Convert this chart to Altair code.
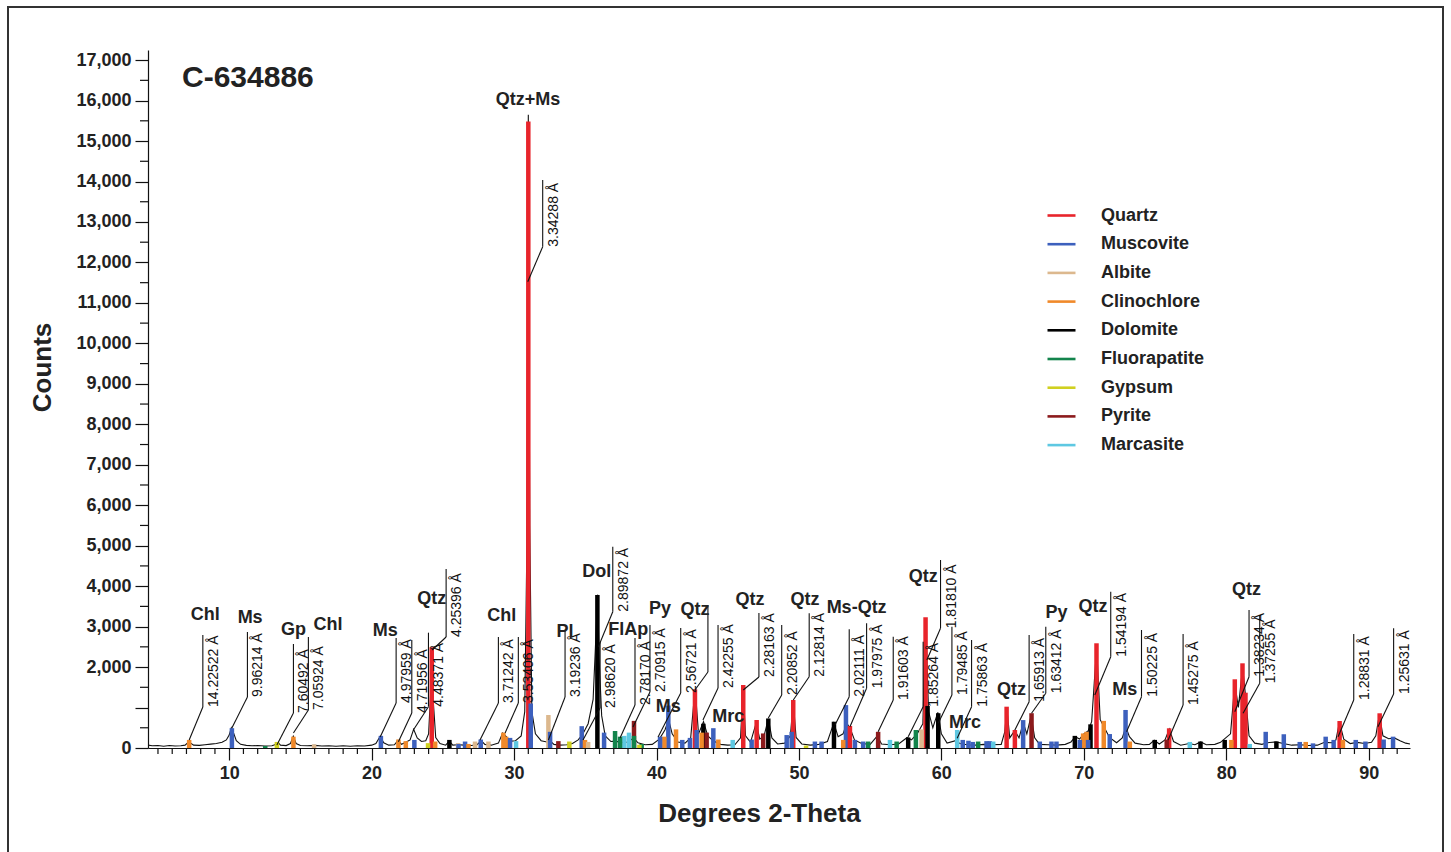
import altair as alt
import pandas as pd

FONT = "Liberation Sans"
X_DOMAIN = [4.3, 92.9]
Y_DOMAIN = [0, 17250]
W, H = 1262, 698

# ---------------- observed pattern (2-theta, counts) ----------------
pattern_theta = [4.3, 4.6, 5.0, 5.4, 5.8, 6.2, 6.6, 6.9, 7.1, 7.2, 7.3, 7.5, 7.9, 8.3, 8.7, 9.1, 9.5, 9.8, 10.0, 10.15, 10.3, 10.5, 10.8, 11.2, 11.6, 12.0, 12.5, 13.0, 13.3, 13.45, 13.6, 14.0, 14.3, 14.5, 14.7, 15.0, 15.5, 16.0, 16.5, 17.0, 17.5, 18.0, 18.5, 19.0, 19.5, 20.0, 20.3, 20.6, 20.85, 21.2, 21.6, 21.85, 22.1, 22.4, 22.7, 22.95, 23.2, 23.5, 23.8, 24.0, 24.15, 24.22, 24.32, 24.5, 24.8, 25.2, 25.45, 25.7, 26.1, 26.5, 27.0, 27.4, 27.7, 27.95, 28.4, 28.9, 29.2, 29.5, 29.8, 30.1, 30.5, 30.75, 30.9, 31.0, 31.1, 31.25, 31.5, 31.9, 32.3, 32.5, 32.8, 33.2, 33.7, 34.1, 34.5, 34.8, 35.2, 35.55, 35.75, 35.87, 35.97, 36.15, 36.4, 36.8, 37.1, 37.5, 38.0, 38.4, 38.7, 39.2, 39.7, 40.2, 40.6, 40.85, 41.1, 41.5, 42.0, 42.4, 42.65, 42.75, 42.95, 43.3, 43.6, 44.0, 44.5, 45.0, 45.5, 45.9, 46.08, 46.25, 46.6, 47.0, 47.25, 47.55, 47.85, 48.1, 48.5, 49.0, 49.4, 49.6, 49.8, 50.2, 50.8, 51.4, 52.0, 52.45, 52.75, 53.1, 53.35, 53.6, 53.9, 54.4, 55.0, 55.5, 55.8, 56.4, 57.0, 57.6, 57.9, 58.3, 58.7, 58.9, 59.1, 59.4, 59.75, 60.0, 60.4, 61.0, 61.3, 61.8, 62.4, 63.0, 63.6, 64.2, 64.45, 64.6, 64.8, 65.15, 65.45, 65.75, 66.0, 66.3, 66.55, 66.9, 67.5, 68.1, 68.7, 69.1, 69.4, 69.7, 70.0, 70.3, 70.55, 70.9, 71.15, 71.45, 71.8, 72.3, 72.7, 72.95, 73.2, 73.6, 74.2, 74.6, 74.95, 75.3, 75.7, 76.0, 76.3, 76.8, 77.4, 77.8, 78.2, 78.6, 79.2, 79.6, 79.9, 80.3, 80.6, 80.85, 81.15, 81.35, 81.6, 82.0, 82.5, 82.9, 83.5, 84.0, 84.6, 85.2, 85.8, 86.4, 86.9, 87.4, 87.7, 87.95, 88.25, 88.7, 89.2, 89.7, 90.2, 90.5, 90.75, 91.0, 91.4, 91.8, 92.2, 92.6, 92.9]
pattern_counts = [70, 55, 60, 45, 60, 50, 55, 70, 130, 190, 120, 70, 65, 80, 95, 110, 140, 200, 320, 500, 380, 180, 90, 65, 55, 60, 50, 55, 90, 130, 70, 60, 110, 290, 110, 60, 55, 65, 50, 55, 45, 55, 45, 55, 50, 70, 110, 290, 130, 70, 80, 190, 90, 140, 200, 460, 250, 160, 180, 350, 1400, 2470, 1200, 260, 110, 70, 170, 70, 80, 70, 60, 80, 180, 90, 70, 120, 370, 260, 170, 180, 300, 900, 5000, 15650, 5500, 900, 350, 180, 150, 190, 90, 70, 80, 110, 200, 330, 600, 1200, 2800, 3790, 2200, 800, 300, 160, 170, 140, 150, 250, 130, 80, 90, 220, 450, 700, 350, 150, 120, 250, 1250, 1300, 350, 650, 300, 170, 90, 70, 80, 250, 1480, 300, 140, 620, 220, 300, 720, 250, 100, 120, 300, 1150, 260, 100, 70, 90, 160, 620, 280, 350, 620, 480, 200, 110, 90, 300, 100, 80, 100, 260, 200, 350, 600, 3100, 900, 500, 880, 350, 120, 180, 110, 80, 70, 90, 80, 90, 400, 980, 250, 430, 250, 620, 350, 800, 250, 90, 80, 70, 90, 150, 280, 220, 350, 420, 650, 2500, 700, 500, 260, 130, 250, 520, 280, 120, 80, 90, 190, 100, 200, 470, 160, 70, 110, 80, 150, 80, 90, 140, 230, 350, 1600, 1000, 2000, 1300, 300, 120, 90, 130, 150, 110, 70, 80, 60, 70, 140, 130, 200, 640, 220, 110, 140, 110, 140, 300, 830, 300, 230, 250, 180, 120, 100]

# ---------------- reference sticks per phase ----------------
minerals = ["Quartz", "Muscovite", "Albite", "Clinochlore", "Dolomite",
            "Fluorapatite", "Gypsum", "Pyrite", "Marcasite"]
mineral_colors = ["#e8242b", "#3d60bd", "#dcb88e", "#f0892a", "#000000",
                  "#13844c", "#d0d020", "#8c1a1c", "#5ec8e2"]

quartz_theta = [24.22, 31.00, 42.70, 46.09, 47.03, 49.60, 53.58, 58.89, 64.58, 65.16, 70.89, 75.99, 80.60, 81.14, 81.35, 87.96, 90.77]
quartz_counts = [2489, 15480, 1451, 1557, 692, 1186, 544, 3230, 1021, 445, 2588, 487, 1698, 2093, 1367, 667, 858]

muscovite_theta = [10.19, 20.65, 23.00, 26.10, 26.56, 27.66, 29.72, 31.17, 32.53, 34.75, 36.32, 40.25, 40.83, 41.81, 42.35, 42.82, 43.99, 46.68, 49.14, 49.49, 51.12, 51.59, 53.30, 53.93, 54.51, 61.50, 61.90, 62.20, 63.17, 63.40, 65.74, 66.91, 67.73, 68.08, 69.72, 70.30, 71.82, 72.93, 82.77, 84.04, 85.16, 86.09, 86.98, 87.54, 89.09, 89.77, 91.05, 91.71]
muscovite_counts = [490, 300, 200, 100, 160, 210, 250, 1100, 400, 540, 380, 280, 1050, 200, 250, 445, 490, 210, 320, 400, 160, 160, 1060, 200, 160, 200, 180, 150, 170, 170, 690, 160, 160, 160, 200, 200, 345, 940, 400, 340, 150, 115, 280, 200, 200, 160, 210, 280]

albite_theta = [15.96, 26.07, 27.26, 28.20, 32.41, 35.20, 58.61]
albite_counts = [90, 120, 160, 160, 815, 150, 460]

clinochlore_theta = [7.19, 14.51, 21.88, 22.40, 24.46, 26.80, 29.25, 29.44, 34.98, 40.55, 41.37, 43.17, 44.34, 53.11, 69.95, 70.19, 71.40, 73.23, 80.36, 85.58, 88.19]
clinochlore_counts = [200, 280, 210, 170, 160, 100, 380, 280, 200, 280, 460, 380, 210, 200, 360, 400, 670, 160, 200, 150, 200]

dolomite_theta = [25.46, 35.85, 43.29, 47.85, 52.46, 57.67, 59.03, 59.78, 69.37, 70.47, 74.98, 78.19, 79.89, 83.52]
dolomite_counts = [200, 3780, 600, 730, 650, 260, 1040, 860, 300, 585, 200, 160, 200, 160]

fluorapatite_theta = [12.53, 37.09, 37.44, 38.42, 38.96, 54.86, 56.86, 58.21, 62.58]
fluorapatite_counts = [50, 420, 280, 300, 100, 160, 160, 445, 160]

gypsum_theta = [13.35, 23.96, 33.88, 38.80, 50.50]
gypsum_counts = [150, 120, 160, 80, 60]

pyrite_theta = [33.11, 38.42, 43.52, 47.49, 55.56, 66.33, 75.82]
pyrite_counts = [170, 670, 380, 360, 400, 860, 210]

marcasite_theta = [30.14, 37.74, 38.07, 45.35, 56.39, 61.11, 63.64, 77.44, 81.65]
marcasite_counts = [170, 300, 380, 200, 200, 445, 160, 150, 100]

# ---------------- d-spacing annotations (one unlabeled leader for the 42.7° Qtz) ----------------
d_labels = ["14.22522 Å", "9.96214 Å", "7.60492 Å", "7.05924 Å", "4.97959 Å", "4.71956 Å", "4.48371 Å", "4.25396 Å",
            "3.71242 Å", "3.53406 Å", "3.34288 Å", "3.19236 Å", "2.98620 Å", "2.89872 Å", "2.78170 Å", "2.70915 Å",
            "2.56721 Å", "", "2.42255 Å", "2.28163 Å", "2.20852 Å", "2.12814 Å", "2.02111 Å", "1.97975 Å", "1.91603 Å",
            "1.85264 Å", "1.81810 Å", "1.79485 Å", "1.75863 Å", "1.65913 Å", "1.63412 Å", "1.54194 Å", "1.50225 Å",
            "1.45275 Å", "1.38234 Å", "1.37255 Å", "1.28831 Å", "1.25631 Å"]
d_line_x = [8.15, 11.28, 14.51, 15.56, 21.72, 22.82, 23.99, 25.23, 28.90, 30.30, 32.01, 33.58, 36.04, 36.93, 38.49, 39.54,
            41.70, 43.61, 44.32, 47.19, 48.79, 50.72, 53.53, 54.75, 56.62, 58.72, 59.94, 60.74, 62.12, 66.16, 67.33, 71.89, 74.05,
            76.97, 81.60, 82.35, 88.95, 91.75]
d_line_bottom = [1013, 1260, 865, 939, 1112, 865, 1021, 2743, 1112, 1112, 12389, 1260, 989, 3369, 1063, 1384,
                 1359, 1878, 1483, 1755, 1310, 1762, 1268, 1475, 1186, 1021, 2958, 1310, 1021, 1144, 1352, 2256, 1268,
                 1063, 1762, 1599, 1186, 1335]
d_line_top = [2793, 2867, 2570, 2743, 2718, 2669, 2850, 4424, 2743, 2743, 14038, 2916, 2620, 4975, 2718, 3040,
              2966, 3534, 3040, 3336, 3040, 3329, 2934, 3082, 2751, 2627, 4646, 2998, 2669, 2793, 2998, 3863, 2916,
              2817, 3411, 3287, 2817, 2958]
d_tip_x = [7.19, 10.19, 13.35, 14.51, 20.60, 21.88, 22.93, 24.25, 27.61, 29.37, 30.96, 32.41, 34.84, 35.92, 37.44, 38.35,
           40.11, 42.70, 43.26, 46.09, 47.85, 49.60, 52.53, 53.58, 55.56, 57.67, 58.98, 59.78, 61.11, 65.16, 66.33, 70.77, 73.00,
           75.92, 80.60, 81.18, 87.85, 90.65]
d_tip_y = [198, 494, 74, 371, 272, 156, 445, 2422, 198, 371, 11524, 198, 198, 2503, 247, 519,
           272, 1433, 692, 1433, 741, 1186, 568, 526, 403, 279, 2175, 610, 240, 445, 858, 1310, 403,
           198, 897, 858, 279, 526]

# ---------------- phase labels ----------------
phase_labels = ["Chl", "Ms", "Gp", "Chl", "Ms", "Qtz", "Chl", "Qtz+Ms", "Pl", "Dol", "FlAp", "Py", "Qtz", "Ms", "Mrc",
                "Qtz", "Qtz", "Ms-Qtz", "Qtz", "Mrc", "Qtz", "Py", "Qtz", "Ms", "Qtz"]
phase_x = [8.32, 11.47, 14.51, 16.93, 20.95, 24.22, 29.14, 30.98, 33.58, 35.80, 38.02, 40.25, 42.70, 40.83, 45.04,
           46.56, 50.42, 54.05, 58.72, 61.65, 64.93, 68.08, 70.65, 72.88, 81.42]
phase_y = [3287, 3220, 2916, 3040, 2899, 3675, 3262, 16015, 2874, 4342, 2916, 3428, 3411, 1021, 774,
           3658, 3658, 3453, 4234, 625, 1433, 3329, 3492, 1433, 3905]

sample_name = "C-634886"

y_major = list(range(0, 17001, 1000))
y_minor = list(range(500, 17000, 1000))
x_major = list(range(10, 91, 10))
x_minor = [v for v in range(5, 93) if v % 10 != 0]

# ---------------- build tables ----------------
pat_df = pd.DataFrame({"t": pattern_theta, "c": pattern_counts})

stick_sets = [quartz_theta, muscovite_theta, albite_theta, clinochlore_theta, dolomite_theta,
              fluorapatite_theta, gypsum_theta, pyrite_theta, marcasite_theta]
stick_vals = [quartz_counts, muscovite_counts, albite_counts, clinochlore_counts, dolomite_counts,
              fluorapatite_counts, gypsum_counts, pyrite_counts, marcasite_counts]
rows = []
for m, ts, cs in zip(minerals, stick_sets, stick_vals):
    for t, c in zip(ts, cs):
        rows.append({"mineral": m, "t": t, "c": c, "b": 0})
stick_df = pd.DataFrame(rows).sort_values("c", ascending=False).reset_index(drop=True)
stick_df["z"] = range(len(stick_df))

ann_df = pd.DataFrame({"label": d_labels, "lx": d_line_x, "lb": d_line_bottom, "lt": d_line_top,
                       "tx": d_tip_x, "ty": d_tip_y})
ph_df = pd.DataFrame({"label": phase_labels, "x": phase_x, "y": phase_y})

xs = alt.Scale(domain=X_DOMAIN, nice=False, zero=False)
ys = alt.Scale(domain=Y_DOMAIN, nice=False, zero=False)

x_axis = alt.Axis(values=x_major, title="Degrees 2-Theta", grid=False, tickSize=12, tickWidth=1.2,
                  tickColor="#111", domainColor="#111", domainWidth=1.2,
                  labelFont=FONT, labelFontSize=18, labelFontWeight="bold", labelColor="#222",
                  labelPadding=4, titleFont=FONT, titleFontSize=26, titleFontWeight="bold",
                  titleColor="#222", titlePadding=18, titleX=611)
y_axis = alt.Axis(values=y_major, title="Counts", grid=False, tickSize=13, tickWidth=1.2,
                  tickColor="#111", domainColor="#111", domainWidth=1.2,
                  labelFont=FONT, labelFontSize=18, labelFontWeight="bold", labelColor="#222",
                  labelPadding=4,
                  labelExpr="datum.value == 1000 ? '' : format(datum.value, ',')",
                  titleFont=FONT, titleFontSize=26, titleFontWeight="bold", titleColor="#222",
                  titleX=-106, titleY=317, titleAngle=270, titleAlign="center", titleBaseline="middle")


def X(field):
    return alt.X(field, scale=xs, axis=x_axis, title="Degrees 2-Theta")


def Y(field):
    return alt.Y(field, scale=ys, axis=y_axis, title="Counts")


frame = alt.Chart(pd.DataFrame({"a": [0]})).mark_rect(filled=False, stroke="#333", strokeWidth=2).encode(
    x=alt.value(-140), x2=alt.value(1295), y=alt.value(-43), y2=alt.value(815))

pattern = alt.Chart(pat_df).mark_line(color="#111", strokeWidth=1.1).encode(x=X("t:Q"), y=Y("c:Q"))

sticks = alt.Chart(stick_df).mark_rule(strokeWidth=4.5).encode(
    x=X("t:Q"),
    y=Y("c:Q"),
    y2=alt.Y2("b:Q"),
    order=alt.Order("z:Q"),
    color=alt.Color("mineral:N",
                    scale=alt.Scale(domain=minerals, range=mineral_colors),
                    legend=alt.Legend(orient="none", legendX=898, legendY=150, title=None,
                                      symbolType="stroke", symbolSize=784, symbolStrokeWidth=2.6,
                                      labelFont=FONT, labelFontSize=18, labelFontWeight="bold",
                                      labelColor="#222", labelOffset=24, rowPadding=3.7, padding=0)))

yminor = alt.Chart(pd.DataFrame({"v": y_minor})).mark_rule(color="#111", strokeWidth=1.2).encode(
    y=Y("v:Q"), x=alt.value(-8), x2=alt.value(0))
xminor = alt.Chart(pd.DataFrame({"v": x_minor})).mark_rule(color="#111", strokeWidth=1.2).encode(
    x=X("v:Q"), y=alt.value(H), y2=alt.value(H + 6))

vlines = alt.Chart(ann_df).mark_rule(color="#111", strokeWidth=1.1).encode(
    x=X("lx:Q"), y=Y("lb:Q"), y2="lt:Q")
leaders = alt.Chart(ann_df).mark_rule(color="#111", strokeWidth=1.1).encode(
    x=X("lx:Q"), y=Y("lb:Q"), x2="tx:Q", y2="ty:Q")
dtext = alt.Chart(ann_df).mark_text(angle=270, align="left", baseline="top", dy=4, fontSize=14,
                                    font=FONT, color="#111").encode(
    x=X("lx:Q"), y=Y("lb:Q"), text="label:N")

phases = alt.Chart(ph_df).mark_text(fontSize=18, fontWeight="bold", font=FONT, color="#222",
                                    align="center", baseline="middle").encode(
    x=X("x:Q"), y=Y("y:Q"), text="label:N")

title = alt.Chart(pd.DataFrame({"s": [sample_name]})).mark_text(
    fontSize=30, fontWeight="bold", font=FONT, color="#222", align="left", baseline="alphabetic").encode(
    x=alt.value(34), y=alt.value(37), text="s:N")

chart = alt.layer(pattern, frame, sticks, yminor, xminor, vlines, leaders, dtext, phases, title).properties(
    width=W, height=H,
    padding={"left": 148, "top": 50, "right": 41, "bottom": 104},
    autosize=alt.AutoSizeParams(type="none"),
    background="white",
).configure_view(strokeWidth=0)

chart.save("out.html", embed_options={"renderer": "svg", "actions": False})
